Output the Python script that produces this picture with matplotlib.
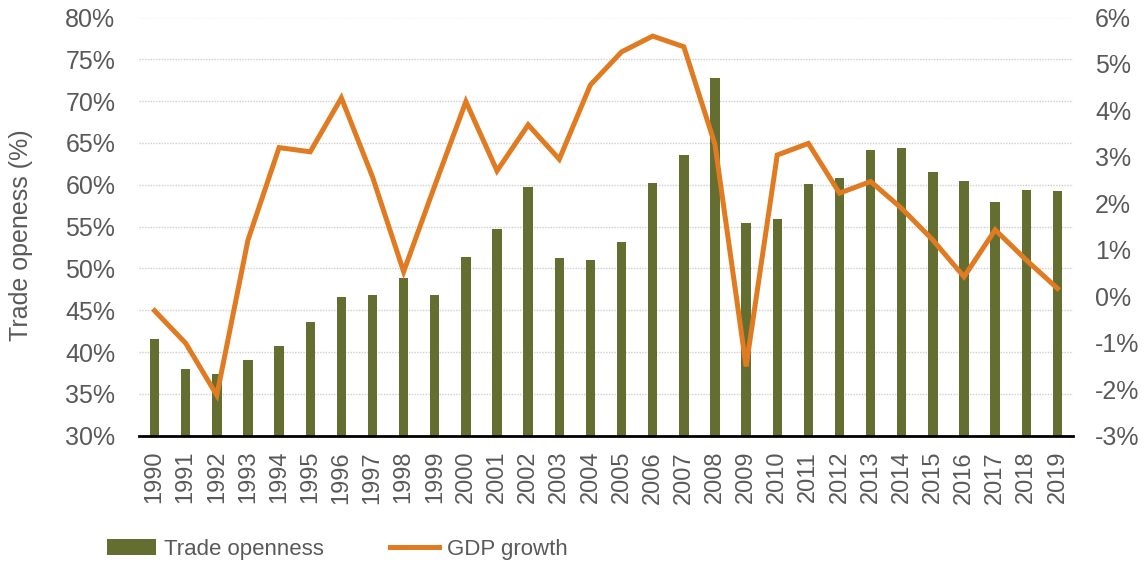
import matplotlib
matplotlib.use("Agg")
import matplotlib.pyplot as plt
import numpy as np
from matplotlib.ticker import FuncFormatter

years = [str(y) for y in range(1990, 2020)]
trade_openness = [41.6, 38.0, 37.4, 39.0, 40.7, 43.6, 46.6, 46.8, 48.8, 46.8,
                  51.4, 54.7, 59.7, 51.3, 51.0, 53.1, 60.2, 63.6, 72.8, 55.4,
                  55.9, 60.1, 60.8, 64.2, 64.4, 61.5, 60.5, 57.9, 59.4, 59.2]
gdp_growth = [-0.31, -1.01, -2.13, 1.21, 3.2, 3.11, 4.27, 2.57, 0.53, 2.38,
              4.19, 2.70, 3.69, 2.95, 4.55, 5.26, 5.60, 5.37, 3.27, -1.51,
              3.04, 3.29, 2.22, 2.47, 1.89, 1.21, 0.42, 1.43, 0.78, 0.17]

left_ticks = [30, 35, 40, 45, 50, 55, 60, 65, 70, 75, 80]
right_ticks = [-3, -2, -1, 0, 1, 2, 3, 4, 5, 6]

bar_color = "#636E30"
line_color = "#E07B22"
text_color = "#595959"

plt.rcParams['font.family'] = ['Liberation Sans', 'DejaVu Sans']

fig = plt.figure(figsize=(11.45, 5.64), dpi=100)
ax = fig.add_axes([139/1145, 1-435.7/564, (1073-139)/1145, (435.7-17.5)/564])
ax2 = ax.twinx()

x = np.arange(len(years))
b = ax.bar(x, trade_openness, width=0.3, color=bar_color, label="Trade openness", zorder=2)
ax.set_ylim(30, 80)
ax.set_xlim(-0.5, len(years) - 0.5)
ax.set_yticks(left_ticks)
ax.yaxis.set_major_formatter(FuncFormatter(lambda v, p: f"{v:.0f}%"))
ax.set_xticks(x)
ax.set_xticklabels(years, rotation=90)
ax.set_axisbelow(True)
ax.grid(axis='y', color='#CFCFCF', linestyle=(0, (1, 1)), linewidth=1.0, zorder=0)
ax.tick_params(axis='y', length=0, pad=17, labelsize=18, labelcolor=text_color)
ax.tick_params(axis='x', length=0, pad=11, labelsize=17, labelcolor=text_color)
for s in ['top', 'right', 'left']:
    ax.spines[s].set_visible(False)
ax.spines['bottom'].set_color('black')
ax.spines['bottom'].set_linewidth(2)
ax.spines['bottom'].set_zorder(5)
ax.set_ylabel("Trade openess (%)", fontsize=18, color=text_color)
ax.yaxis.set_label_coords((33 - 139) / 934, 1 - (235 - 17.5) / 418.2)

l, = ax2.plot(x, gdp_growth, color=line_color, linewidth=3.6, label="GDP growth",
              solid_joinstyle='miter')
ax2.set_ylim(-3, 6)
ax2.set_yticks(right_ticks)
ax2.yaxis.set_major_formatter(FuncFormatter(lambda v, p: f"{v:.0f}%"))
ax2.tick_params(axis='y', length=0, pad=16, labelsize=18, labelcolor=text_color)
for s in ax2.spines.values():
    s.set_visible(False)

fig.legend(handles=[b, l], labels=["Trade openness", "GDP growth"],
           loc='center left', bbox_to_anchor=(107/1145, 1-549/564),
           ncol=2, frameon=False, fontsize=16, handlelength=2.2,
           handletextpad=0.35, columnspacing=3.0, borderpad=0, borderaxespad=0,
           labelcolor=text_color)

fig.savefig("out.png", dpi=100)
